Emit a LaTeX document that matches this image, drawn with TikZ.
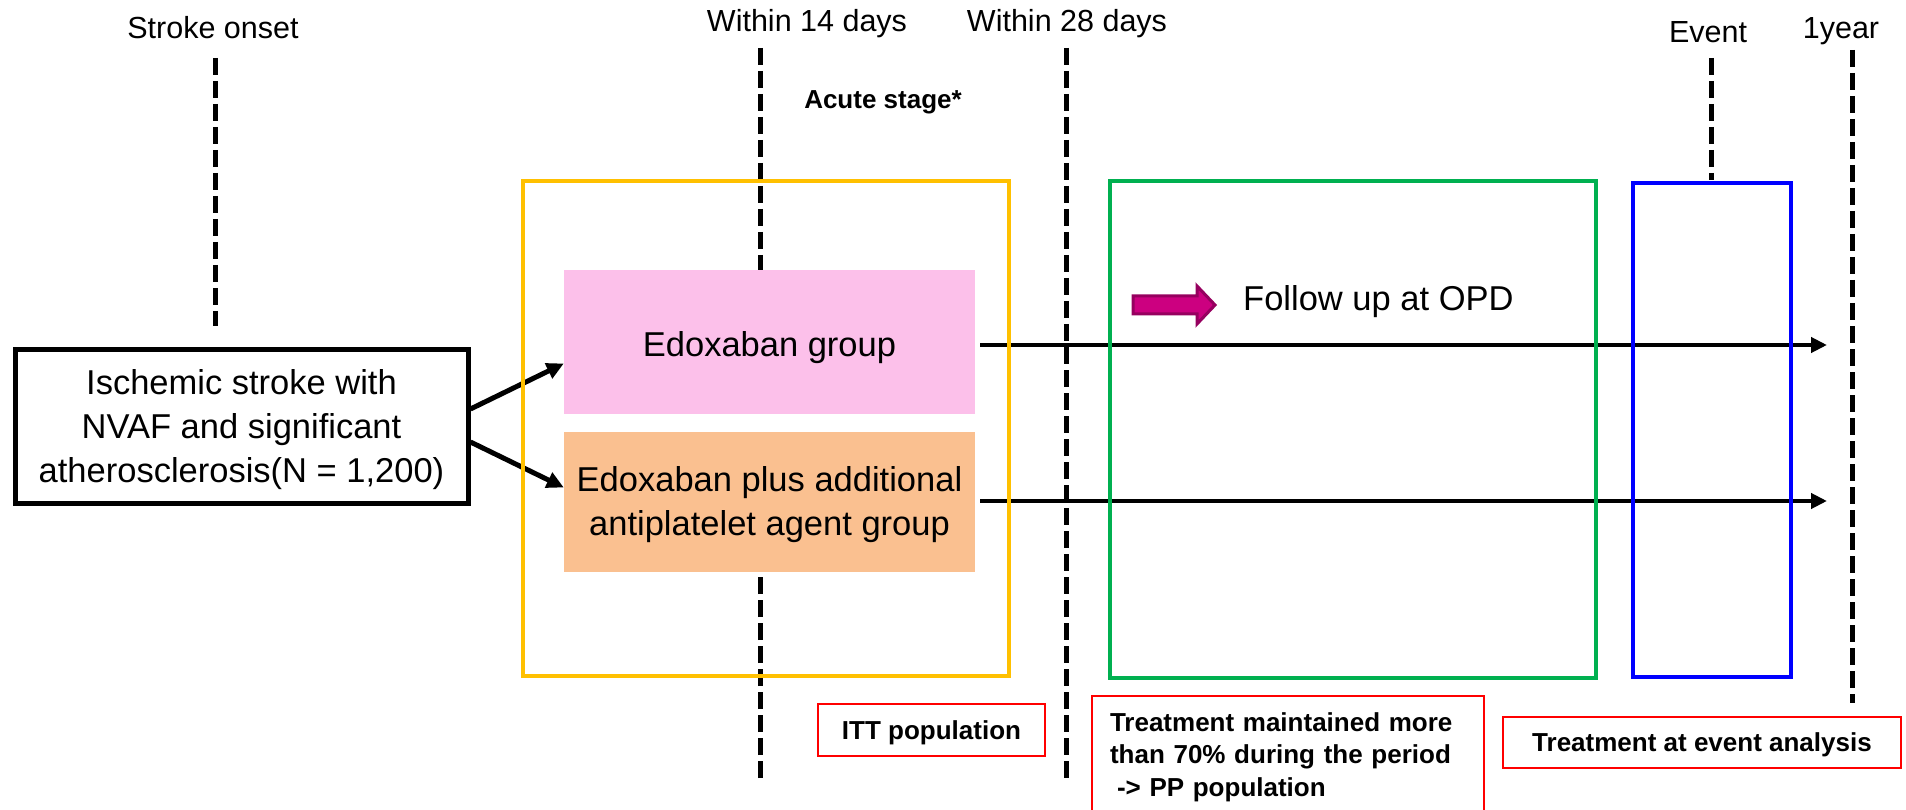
\documentclass[tikz,border=0pt]{standalone}
\usepackage{fontspec}
\setmainfont{Liberation Sans}
\usetikzlibrary{arrows.meta}

\definecolor{frameyellow}{RGB}{255,192,0}
\definecolor{framegreen}{RGB}{0,176,80}
\definecolor{frameblue}{RGB}{0,0,255}
\definecolor{pinkfill}{RGB}{252,192,234}
\definecolor{orangefill}{RGB}{250,192,144}
\definecolor{fwdfill}{RGB}{204,0,128}
\definecolor{fwdline}{RGB}{150,0,95}

\tikzset{
  timeline/.style={line width=5pt, dash pattern=on 17pt off 6pt},
  ticklabel/.style={font=\fontsize{30.5}{36}\selectfont, anchor=base, inner sep=0pt},
  boldlabel/.style={font=\fontsize{26}{32.5}\selectfont\bfseries},
  big/.style={font=\fontsize{34.5}{44}\selectfont},
  groupbox/.style={big, inner sep=0pt, align=center},
  frame/.style={line width=4.5pt, inner sep=0pt},
  redbox/.style={boldlabel, draw={rgb,255:red,255;green,0;blue,0}, line width=2pt},
  flow/.style={line width=5pt, -{Triangle[length=17pt,width=16pt]}},
  follow/.style={line width=4pt, -{Triangle[length=16pt,width=15pt]}},
  fwdarrow/.style={fill=fwdfill, draw=fwdline, line width=3pt, line join=miter}
}

\begin{document}
\begin{tikzpicture}[x=1pt, y=-1pt]
\useasboundingbox (0,0) rectangle (1906,810);
\clip (0,0) rectangle (1906,810);

% time points
\node[ticklabel] (tOnset) at (213,39) {Stroke onset};
\node[ticklabel] (t14) at (807,32) {Within 14 days};
\node[ticklabel] (t28) at (1067,32) {Within 28 days};
\node[ticklabel] (tEvent) at (1708,43) {Event};
\node[ticklabel] (tYear) at (1841,39) {1year};
\node[boldlabel, anchor=base, inner sep=0pt] (acute) at (883,109) {Acute stage*};

\coordinate (onA) at (215,58);   \coordinate (onB) at (215,326);
\coordinate (d14A) at (760,48);  \coordinate (d14B) at (760,778);
\coordinate (d28A) at (1066,48); \coordinate (d28B) at (1066,778);
\coordinate (evA) at (1711,58);  \coordinate (evB) at (1711,180);
\coordinate (yrA) at (1852,50);  \coordinate (yrB) at (1852,703);

% study population and the two arms
\node[draw, line width=5pt, minimum width=453pt, minimum height=154pt, groupbox]
  (cohort) at (241.5,426) {\rule{0pt}{33pt}Ischemic stroke with\\NVAF and significant\\atherosclerosis(N = 1,200)};
\node[fill=pinkfill, minimum width=411pt, minimum height=143pt, groupbox]
  (edox) at (769.5,342) {\rule{0pt}{36pt}Edoxaban group};
\node[fill=orangefill, minimum width=411pt, minimum height=140pt, groupbox]
  (combo) at (769.5,502) {\rule{0pt}{31pt}Edoxaban plus additional\\antiplatelet agent group};

% dashed time lines
\draw[timeline] (onA) -- (onB);
\draw[timeline] (d14A) -- (d14A |- edox.north);
\draw[timeline] (d14B) -- (d14A |- combo.south);
\draw[timeline] (d28A) -- (d28B);
\draw[timeline] (evA) -- (evB);
\draw[timeline] (yrA) -- (yrB);

\draw[flow] ([yshift=17pt]cohort.east) -- ([yshift=-21.5pt]edox.west);
\draw[flow] ([yshift=-16pt]cohort.east) -- ([yshift=14.5pt]combo.west);

\coordinate (endA) at (1827,345);
\coordinate (endB) at (1827,501);
\draw[follow] ([xshift=5pt,yshift=-3pt]edox.east) -- (endA);
\draw[follow] ([xshift=5pt,yshift=1pt]combo.east) -- (endB);

% follow-up marker
\draw[fwdarrow] (1133,296) -- (1197,296) -- (1197,286) -- (1215,305)
  -- (1197,324) -- (1197,314) -- (1133,314) -- cycle;
\node[big, anchor=west, inner sep=0pt] (opd) at (1243,302) {Follow up at OPD};

% analysis windows
\node[frame, draw=frameyellow, line width=4pt, minimum width=486pt, minimum height=495pt]
  (acuteframe) at (766,428.5) {};
\node[frame, draw=framegreen, minimum width=486pt, minimum height=497pt]
  (ppframe) at (1353,429.5) {};
\node[frame, draw=frameblue, minimum width=158pt, minimum height=494pt]
  (evframe) at (1712,430) {};

% analysis populations
\node[redbox, text depth=0pt, minimum width=227pt, minimum height=52pt] (itt) at (931.5,730) {ITT population};
\node[redbox, anchor=north west, text width=356pt, inner xsep=18pt, inner ysep=0pt, align=left]
  (pp) at (1091,695) {\rule{0pt}{35pt}Treatment maintained more\\than 70\% during the period\\\hspace*{7pt}-> PP population\rule[-45pt]{0pt}{45pt}};
\node[redbox, text depth=0pt, minimum width=398pt, minimum height=51pt] (evan) at (1702,742.5) {Treatment at event analysis};
\end{tikzpicture}
\end{document}
